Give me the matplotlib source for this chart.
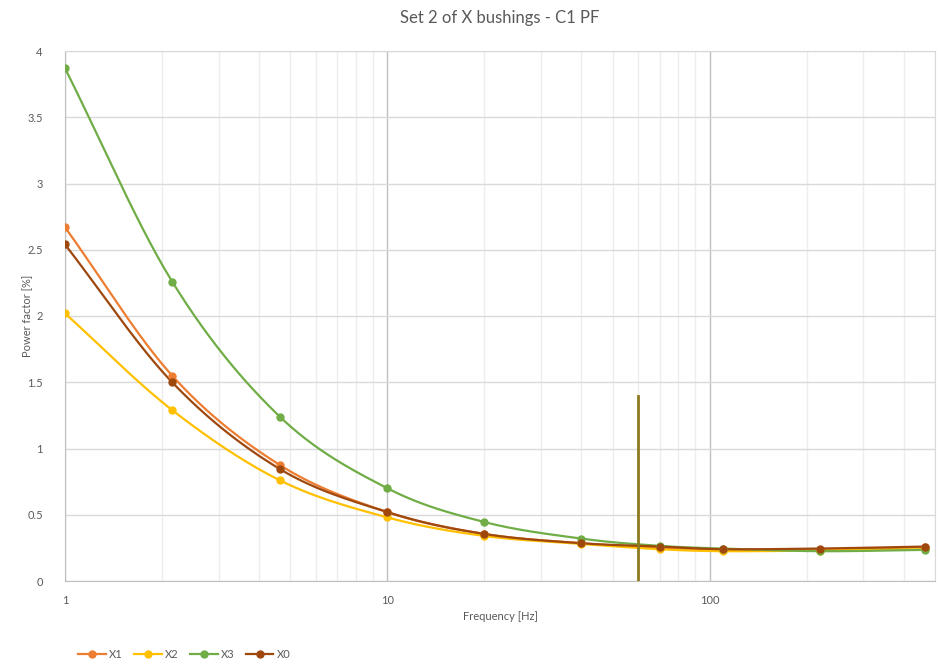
import numpy as np
import matplotlib
matplotlib.use("Agg")
import matplotlib.pyplot as plt
from matplotlib.ticker import FixedLocator, NullFormatter, FuncFormatter

plt.rcParams['font.family'] = ['Lato', 'DejaVu Sans']

freq = [1, 2.15, 4.64, 10, 20, 40, 70, 110, 220, 465]
x1 = [2.67, 1.55, 0.875, 0.52, 0.355, 0.285, 0.25, 0.235, 0.235, 0.255]
x2 = [2.02, 1.29, 0.76, 0.48, 0.34, 0.28, 0.24, 0.225, 0.23, 0.24]
x3 = [3.87, 2.26, 1.24, 0.70, 0.445, 0.32, 0.265, 0.245, 0.225, 0.235]
x0 = [2.54, 1.50, 0.845, 0.52, 0.355, 0.285, 0.26, 0.24, 0.245, 0.26]
names = ['X1', 'X2', 'X3', 'X0']
colors = ['#ED7D31', '#FFC000', '#70AD47', '#9E480E']
marker_freq = 60
marker_height = 1.40


def smooth(xs, ys, n=30):
    # Catmull-Rom spline in log-x space (like Excel smoothed lines)
    lx = np.log10(xs)
    ys = np.asarray(ys, float)
    P = np.column_stack([lx, ys])
    P = np.vstack([2 * P[0] - P[1], P, 2 * P[-1] - P[-2]])
    out = []
    for i in range(1, len(P) - 2):
        p0, p1, p2, p3 = P[i - 1], P[i], P[i + 1], P[i + 2]
        t = np.linspace(0, 1, n)[:, None]
        seg = 0.5 * ((2 * p1) + (-p0 + p2) * t + (2 * p0 - 5 * p1 + 4 * p2 - p3) * t ** 2
                     + (-p0 + 3 * p1 - 3 * p2 + p3) * t ** 3)
        out.append(seg)
    S = np.vstack(out)
    return 10 ** S[:, 0], S[:, 1]


fig = plt.figure(figsize=(9.41, 6.60), dpi=100)
ax = fig.add_axes([65 / 941, 1 - 581 / 660, (935 - 65) / 941, (581 - 51) / 660])
ax.set_xscale('log')
ax.set_xlim(1, 500)
ax.set_ylim(0, 4)

# grid
ax.set_yticks(np.arange(0, 4.01, 0.5))
ax.yaxis.set_major_formatter(FuncFormatter(lambda v, p: ('%g' % v)))
ax.xaxis.set_major_locator(FixedLocator([1, 10, 100]))
ax.xaxis.set_major_formatter(FuncFormatter(lambda v, p: '%g' % v))
minors = [m * d for d in (1, 10, 100) for m in range(2, 10) if m * d <= 500]
ax.xaxis.set_minor_locator(FixedLocator(minors))
ax.xaxis.set_minor_formatter(NullFormatter())
ax.grid(True, which='major', axis='y', color='#D9D9D9', lw=1)
ax.grid(True, which='major', axis='x', color='#BFBFBF', lw=1)
ax.grid(True, which='minor', axis='x', color='#EDEDED', lw=1)
ax.set_axisbelow(True)
for s in ['top', 'right']:
    ax.spines[s].set_color('#D9D9D9')
for s in ['left', 'bottom']:
    ax.spines[s].set_color('#BFBFBF')
ax.tick_params(axis='both', which='both', length=0, colors='#595959', labelsize=8)
ax.tick_params(axis='x', pad=10)
ax.tick_params(axis='y', pad=16)

for ys, c, nme in zip([x1, x2, x3, x0], colors, names):
    sx, sy = smooth(freq, ys)
    ax.plot(sx, sy, color=c, lw=1.6, zorder=3)
    ax.plot(freq, ys, 'o', color=c, ms=5, zorder=4)
    ax.plot([], [], '-o', color=c, lw=1.6, ms=5, label=nme)

ax.plot([marker_freq, marker_freq], [0, marker_height], color='#8C7A1E', lw=2, zorder=5)

ax.set_title('Set 2 of X bushings - C1 PF', fontsize=12, color='#595959', pad=20)
ax.set_xlabel('Frequency [Hz]', fontsize=8, color='#595959')
ax.set_ylabel('Power factor [%]', fontsize=8, color='#595959')
ax.xaxis.set_label_coords(0.5, (581 - 611) / 530)
ax.yaxis.set_label_coords((33 - 65) / 870, 0.5)

leg = fig.legend(loc='lower left', bbox_to_anchor=(68 / 941, -0.015), ncol=4, frameon=False,
                 fontsize=8, handlelength=2.5, columnspacing=1.0, handletextpad=0.3)
for t in leg.get_texts():
    t.set_color('#595959')

fig.savefig('out.png', dpi=100)
